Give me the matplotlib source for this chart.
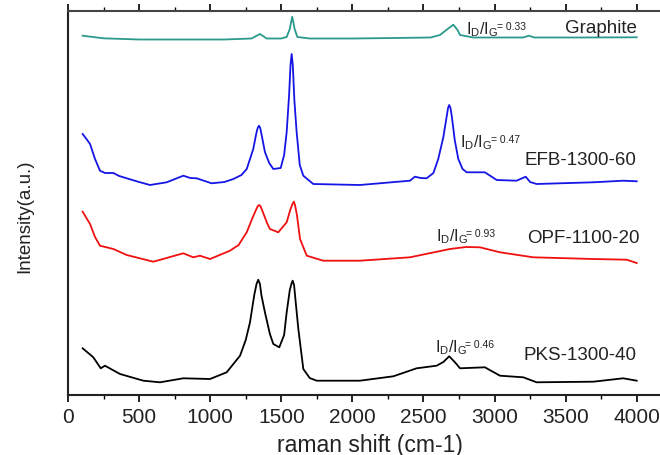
"""
Raman spectra of carbonised biomass samples compared with graphite.
Traces are stacked with a vertical offset; the D/G intensity ratio of
each sample is written next to its 2D band.
"""

import matplotlib
matplotlib.use("Agg")
import matplotlib.pyplot as plt
from matplotlib.ticker import MultipleLocator


# raman shift (cm-1) and stacked intensity (a.u.) for each sample
GRAPHITE_X = [103, 248, 500, 800, 1100, 1290, 1350, 1397, 1500, 1538, 1560,
              1568, 1577, 1586, 1594, 1613, 1700, 2000, 2300, 2550, 2616,
              2670, 2710, 2740, 2757, 2850, 3100, 3200, 3242, 3280, 3600, 4000]
GRAPHITE_Y = [359.3, 356.7, 355.5, 355.5, 355.5, 356.5, 361.0, 356.5, 356.5,
              358.0, 366.0, 372.0, 378.3, 372.0, 366.0, 358.0, 356.5, 356.5,
              357.0, 357.5, 360.0, 366.0, 370.3, 365.0, 360.0, 357.5, 357.5,
              357.5, 359.3, 357.5, 357.5, 357.7]

EFB_X = [103, 130, 155, 190, 225, 260, 319, 360, 413, 500, 577, 694, 811,
         860, 905, 1010, 1100, 1163, 1220, 1257, 1303, 1325, 1334, 1343,
         1352, 1362, 1385, 1415, 1444, 1496, 1520, 1538, 1555, 1565, 1573,
         1581, 1592, 1608, 1630, 1655, 1725, 2053, 2405, 2440, 2480, 2522,
         2570, 2604, 2640, 2665, 2673, 2681, 2690, 2700, 2720, 2745, 2775,
         2804, 2932, 3015, 3155, 3219, 3250, 3296, 3694, 3905, 4000]
EFB_Y = [261.0, 256.0, 251.0, 236.0, 224.3, 222.0, 222.0, 219.0, 216.7,
         213.0, 210.0, 212.7, 219.3, 217.0, 216.7, 211.7, 213.0, 216.0,
         220.0, 226.0, 246.0, 262.0, 267.0, 269.3, 267.0, 260.0, 243.0,
         232.0, 226.0, 227.0, 240.0, 263.0, 300.0, 330.0, 341.0, 330.0,
         295.0, 263.0, 230.0, 219.3, 211.0, 210.0, 214.3, 218.3, 217.0,
         216.7, 222.0, 236.0, 258.0, 280.0, 287.0, 290.0, 287.0, 278.0,
         255.0, 236.0, 226.0, 222.7, 222.7, 215.0, 214.3, 218.3, 213.0,
         211.0, 212.7, 214.3, 213.7]

OPF_X = [103, 155, 190, 225, 319, 413, 600, 811, 881, 928, 999, 1139, 1200,
         1257, 1300, 1325, 1335, 1345, 1355, 1370, 1400, 1420, 1479, 1538,
         1565, 1580, 1589, 1598, 1610, 1632, 1679, 1795, 2053, 2405, 2686,
         2800, 2897, 3038, 3272, 3694, 3929, 4000]
OPF_Y = [183.3, 171.0, 158.0, 149.3, 146.0, 140.0, 133.3, 141.7, 137.7,
         139.3, 136.0, 144.3, 150.0, 162.7, 178.0, 186.0, 189.0, 190.0,
         188.5, 183.0, 172.0, 166.0, 162.7, 172.7, 186.0, 191.5, 193.3,
         189.0, 180.0, 156.0, 139.3, 134.3, 134.3, 137.7, 146.0, 148.0,
         147.7, 142.7, 137.7, 136.0, 135.3, 132.0]

PKS_X = [103, 178, 230, 260, 366, 530, 647, 811, 999, 1116, 1210, 1250,
         1280, 1310, 1326, 1338, 1350, 1360, 1385, 1420, 1444, 1486, 1520,
         1538, 1560, 1571, 1580, 1590, 1600, 1620, 1655, 1700, 1749, 2053,
         2288, 2452, 2593, 2640, 2681, 2720, 2757, 2932, 3038, 3202, 3296,
         3694, 3905, 4000]
PKS_Y = [46.7, 37.7, 26.7, 29.3, 21.0, 14.3, 12.7, 16.7, 16.0, 22.7, 39.3,
         55.0, 72.7, 100.0, 111.0, 115.3, 111.0, 100.0, 82.7, 61.0, 51.0,
         47.7, 60.0, 82.7, 105.0, 111.0, 114.3, 110.0, 95.0, 66.0, 26.0,
         17.0, 14.3, 14.3, 18.7, 26.7, 29.3, 33.0, 38.7, 33.0, 26.7, 27.7,
         19.3, 17.7, 12.7, 13.3, 16.7, 14.3]

SAMPLE_NAMES = ["Graphite", "EFB-1300-60", "OPF-1100-20", "PKS-1300-40"]
ID_IG_RATIOS = ["0.33", "0.47", "0.93", "0.46"]

COLORS = ["#2b9a8c", "#1515e6", "#f01010", "black"]
# (x, y) for sample name (right aligned) and ratio label (top-left)
NAME_POS = [(4000, 368), (3995, 236), (4020, 157.7), (3995, 41)]
RATIO_POS = [(2800, 376), (2760, 263), (2585, 169), (2578, 58)]


def draw_ratio(ax, pos, ratio):
    """Write I_D/I_G with the value in a smaller font after it."""
    main = ax.text(pos[0], pos[1], r"$\mathregular{I_D/I_G}$", fontsize=11.5,
                   ha="left", va="top", color="#222222")
    ax.annotate(f"= {ratio}", xy=(1, 0.62), xycoords=main,
                xytext=(-1, 0), textcoords="offset points",
                fontsize=7.5, ha="left", va="center", color="#222222")


def main():
    plt.rcParams["font.family"] = ["Liberation Sans", "DejaVu Sans"]
    plt.rcParams["mathtext.fontset"] = "custom"
    plt.rcParams["mathtext.rm"] = "Liberation Sans"
    plt.rcParams["mathtext.it"] = "Liberation Sans"

    fig = plt.figure(figsize=(6.6, 4.56), dpi=100)
    ax = fig.add_axes([68 / 660, 60 / 456, 604 / 660, 384 / 456])

    series = [(GRAPHITE_X, GRAPHITE_Y), (EFB_X, EFB_Y),
              (OPF_X, OPF_Y), (PKS_X, PKS_Y)]
    for (x, y), color in zip(series, COLORS):
        ax.plot(x, y, color=color, lw=1.3, solid_joinstyle="round")

    for name, pos, ratio, rpos in zip(SAMPLE_NAMES, NAME_POS,
                                      ID_IG_RATIOS, RATIO_POS):
        ax.text(pos[0], pos[1], name, fontsize=13.5, ha="right",
                va="center", color="#222222")
        draw_ratio(ax, rpos, ratio)

    ax.set_xlim(0, 4248)
    ax.set_ylim(0, 384)

    ax.xaxis.set_major_locator(MultipleLocator(500))
    ax.xaxis.set_minor_locator(MultipleLocator(250))
    ax.tick_params(axis="x", which="major", direction="out", length=5,
                   width=1.2, labelsize=15, pad=4, labelcolor="#222222")
    ax.tick_params(axis="x", which="minor", direction="out", length=3,
                   width=1.0)
    ax.tick_params(axis="x", which="both", top=True)
    ax.tick_params(axis="y", left=False, labelleft=False)

    for side in ["left", "bottom"]:
        ax.spines[side].set_linewidth(1.5)
        ax.spines[side].set_color("#222222")
    ax.spines["top"].set_linewidth(1.5)
    ax.spines["top"].set_color("#444444")
    ax.spines["right"].set_visible(False)

    ax.set_xlabel("raman shift (cm-1)", fontsize=16.5, labelpad=5,
                  color="#222222")
    ax.set_ylabel("Intensity(a.u.)", fontsize=13.5, color="#222222")
    ax.yaxis.set_label_coords(-0.058, 0.469)

    fig.savefig("out.png", dpi=100)
    plt.close(fig)


if __name__ == "__main__":
    main()
